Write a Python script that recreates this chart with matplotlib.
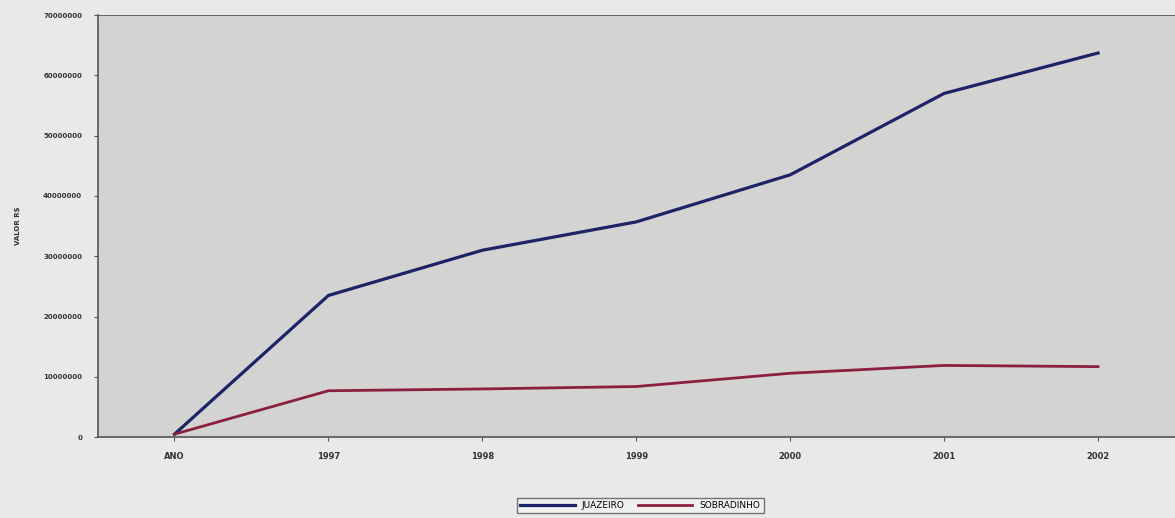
import numpy as np
import matplotlib.pyplot as plt

# valores por ano (R$)
anos = ["ANO", "1997", "1998", "1999", "2000", "2001", "2002"]
juazeiro = [500000, 23500000, 31000000, 35700000, 43500000, 57000000, 63700000]
sobradinho = [500000, 7700000, 8000000, 8400000, 10600000, 11900000, 11700000]
y_ticks = [0, 10000000, 20000000, 30000000, 40000000, 50000000, 60000000, 70000000]

fig = plt.figure(figsize=(11.75, 5.18), dpi=100, facecolor="#e9e9e7")
ax = fig.add_axes([0.083, 0.156, 0.917, 0.815])
ax.set_facecolor("#d3d3d1")

x = np.arange(len(anos))
ax.plot(x, juazeiro, color="#1c2366", lw=2.3, label="JUAZEIRO")
ax.plot(x, sobradinho, color="#8a2040", lw=2.0, label="SOBRADINHO")

ax.set_xlim(-0.5, len(anos) - 0.5)
ax.set_ylim(0, 70000000)
ax.set_xticks(x)
ax.set_xticklabels(anos, fontsize=6, fontweight="bold", color="#333333")
ax.set_yticks(y_ticks)
ax.set_yticklabels([str(v) for v in y_ticks], fontsize=5, fontweight="bold", color="#333333")
ax.tick_params(axis="both", length=3, color="#555555", pad=8)
ax.set_ylabel("VALOR R$", fontsize=5, fontweight="bold", color="#333333", labelpad=16)

for s in ["top", "right"]:
    ax.spines[s].set_visible(False)
for s in ["left", "bottom"]:
    ax.spines[s].set_color("#555555")
    ax.spines[s].set_linewidth(1.2)
ax.axhline(70000000, color="#666666", lw=1.5)

leg = fig.legend(loc="lower center", bbox_to_anchor=(0.545, 0.0), ncol=2,
                 fontsize=6.5, frameon=True, fancybox=False, edgecolor="#555555",
                 facecolor="#f2f2f2", handlelength=6, columnspacing=1.5,
                 borderpad=0.35)
leg.get_frame().set_linewidth(1.0)

fig.savefig("out.png", dpi=100, facecolor=fig.get_facecolor())
